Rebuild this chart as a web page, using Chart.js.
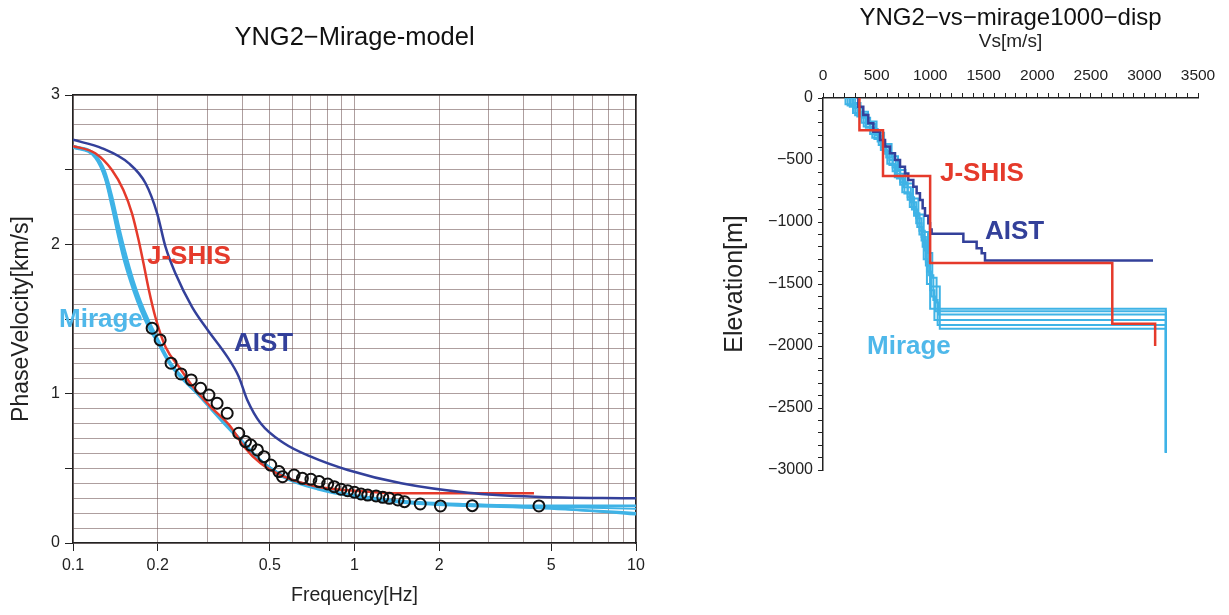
<!DOCTYPE html>
<html>
<head>
<meta charset="utf-8">
<script src="https://cdn.jsdelivr.net/npm/chart.js@4.4.1/dist/chart.umd.min.js"></script>
<style>
body { margin: 0; background: #fff; width: 1229px; height: 615px; overflow: hidden; position: relative; font-family: "Liberation Sans", Arial, sans-serif; }
#leftBox { position: absolute; left: 0; top: 0; width: 700px; height: 615px; }
#rightBox { position: absolute; left: 700px; top: 0; width: 529px; height: 615px; }
.tag { position: absolute; font-weight: bold; white-space: nowrap; line-height: 1; font-size: 26px; }
</style>
</head>
<body>
<div id="leftBox"><canvas id="dispChart"></canvas></div>
<div id="rightBox"><canvas id="vsChart"></canvas></div>

<div class="tag" style="left:147px; top:242px; color:#e53a2b;">J-SHIS</div>
<div class="tag" style="left:59px; top:305px; color:#4fb8ea;">Mirage</div>
<div class="tag" style="left:234px; top:329px; color:#33409a;">AIST</div>
<div class="tag" style="left:940px; top:159px; color:#e53a2b;">J-SHIS</div>
<div class="tag" style="left:985px; top:217px; color:#33409a;">AIST</div>
<div class="tag" style="left:867px; top:332px; color:#4fb8ea;">Mirage</div>

<script>
// dispersion curves (left)
const aistFreq = [0.1, 0.127, 0.158, 0.181, 0.199, 0.213, 0.231, 0.265, 0.300, 0.353, 0.388, 0.416, 0.464, 0.562, 0.700, 0.946, 1.466, 2.53, 4.37, 10];
const aistVel  = [2.70, 2.643, 2.542, 2.409, 2.208, 1.984, 1.806, 1.58, 1.43, 1.248, 1.114, 0.958, 0.802, 0.668, 0.578, 0.489, 0.40, 0.337, 0.31, 0.299];

const jshisFreq = [0.1, 0.12, 0.1375, 0.151, 0.162, 0.171, 0.178, 0.186, 0.196, 0.213, 0.24, 0.261, 0.308, 0.363, 0.405, 0.464, 0.562, 0.74, 1.0, 1.47, 2.0, 4.34];
const jshisVel  = [2.658, 2.61, 2.498, 2.364, 2.208, 2.029, 1.873, 1.694, 1.515, 1.314, 1.17, 1.07, 0.913, 0.779, 0.645, 0.534, 0.444, 0.377, 0.35, 0.333, 0.333, 0.333];

const mirageFreq = [0.1, 0.12, 0.13, 0.1375, 0.145, 0.153, 0.164, 0.174, 0.186, 0.2, 0.222, 0.279, 0.34, 0.40, 0.46, 0.56, 0.74, 1.0, 1.5, 2.5, 4.5, 10];
const mirageVel1 = [2.65, 2.59, 2.45, 2.27, 2.07, 1.89, 1.71, 1.58, 1.45, 1.35, 1.2, 1.0, 0.82, 0.68, 0.56, 0.45, 0.37, 0.32, 0.28, 0.26, 0.25, 0.25];
const mirageVel2 = [2.66, 2.60, 2.49, 2.33, 2.14, 1.96, 1.76, 1.62, 1.49, 1.37, 1.21, 1.0, 0.82, 0.68, 0.56, 0.45, 0.37, 0.31, 0.275, 0.255, 0.245, 0.23];
const mirageVel3 = [2.65, 2.58, 2.44, 2.25, 2.05, 1.87, 1.69, 1.56, 1.44, 1.34, 1.19, 0.99, 0.81, 0.67, 0.55, 0.44, 0.36, 0.31, 0.27, 0.25, 0.235, 0.20];
const mirageVel4 = [2.66, 2.60, 2.47, 2.30, 2.10, 1.92, 1.74, 1.60, 1.47, 1.36, 1.20, 1.0, 0.82, 0.68, 0.56, 0.45, 0.37, 0.315, 0.275, 0.255, 0.24, 0.19];

const obsFreq = [0.191, 0.204, 0.223, 0.242, 0.263, 0.284, 0.304, 0.325, 0.353, 0.388, 0.410, 0.428, 0.452, 0.477, 0.504, 0.539, 0.555, 0.610, 0.653, 0.700, 0.749, 0.803, 0.847, 0.895, 0.946, 1.0, 1.055, 1.114, 1.193, 1.26, 1.33, 1.426, 1.505, 1.712, 2.02, 2.62, 4.52];
const obsVel  = [1.438, 1.36, 1.204, 1.132, 1.092, 1.036, 0.991, 0.936, 0.869, 0.735, 0.679, 0.656, 0.623, 0.578, 0.522, 0.478, 0.444, 0.455, 0.433, 0.427, 0.411, 0.395, 0.377, 0.36, 0.35, 0.34, 0.328, 0.321, 0.315, 0.306, 0.299, 0.288, 0.277, 0.261, 0.248, 0.25, 0.248];

const freqGrid   = [0.1, 0.2, 0.3, 0.4, 0.5, 0.6, 0.7, 0.8, 0.9, 1, 2, 3, 4, 5, 6, 7, 8, 9, 10];
const freqLabels = [0.1, 0.2, 0.5, 1, 2, 5, 10];
const velGrid = Array.from({length: 31}, (_, i) => i / 10);

// Vs profiles (right), layer velocity + layer top depth
const jshisVs  = [340, 560, 1000, 2700, 3100];
const jshisTop = [0, 260, 630, 1330, 1820, 2000];

const aistVs  = [330, 376, 423, 470, 532, 579, 625, 672, 719, 765, 796, 843, 874, 905, 930, 952, 983, 999, 1014, 1310, 1434, 1481, 1512, 3080];
const aistTop = [0, 70, 137, 204, 272, 339, 392, 446, 500, 554, 608, 661, 715, 769, 823, 890, 950, 1010, 1060, 1095, 1160, 1212, 1253, 1310, 1310];

const mirageVsList = [
    [210, 280, 360, 440, 520, 590, 650, 720, 790, 850, 900, 940, 970, 1000, 3200],
    [250, 320, 400, 480, 560, 620, 690, 760, 830, 880, 930, 970, 1010, 1050, 3200],
    [280, 350, 420, 500, 570, 640, 700, 770, 840, 890, 940, 980, 1020, 1060, 1080, 3200],
    [230, 300, 380, 460, 540, 600, 670, 740, 810, 870, 920, 960, 1000, 1040, 3200],
    [300, 370, 440, 510, 580, 650, 720, 790, 850, 900, 950, 990, 1030, 1070, 3200],
    [260, 330, 410, 490, 550, 620, 680, 750, 820, 870, 920, 960, 1000, 1090, 3200]
];
const mirageTopList = [
    [0, 50, 120, 200, 290, 380, 480, 590, 700, 820, 950, 1100, 1300, 1500, 1700, 2860],
    [0, 70, 150, 240, 330, 430, 540, 650, 770, 900, 1040, 1200, 1400, 1600, 1720, 2860],
    [0, 40, 110, 190, 280, 370, 470, 580, 690, 810, 940, 1080, 1250, 1450, 1650, 1745, 2860],
    [0, 60, 140, 230, 320, 420, 530, 640, 760, 880, 1010, 1150, 1350, 1550, 1790, 2860],
    [0, 80, 160, 250, 350, 450, 560, 680, 800, 930, 1070, 1230, 1430, 1630, 1830, 2860],
    [0, 55, 130, 210, 300, 400, 500, 610, 720, 840, 970, 1120, 1320, 1520, 1860, 2860]
];

const vsGrid = Array.from({length: 36}, (_, i) => i * 100);
const elevGrid = Array.from({length: 31}, (_, i) => -3000 + i * 100);

const RED = '#e53a2b';
const NAVY = '#33409a';
const SKY = '#3fb3e6';
const GRID = 'rgba(120, 95, 95, 0.6)';
const INK = '#222';

Chart.defaults.font.family = '"Liberation Sans", Arial, sans-serif';
Chart.defaults.color = INK;

function pairs(xs, ys) {
    return xs.map((x, i) => ({x: x, y: ys[i]}));
}

function near(v, list) {
    return list.some(t => Math.abs(t - v) < 1e-6);
}

function curve(label, xs, ys, color, width) {
    return {
        label: label,
        data: pairs(xs, ys),
        showLine: true,
        borderColor: color,
        borderWidth: width,
        pointRadius: 0,
        cubicInterpolationMode: 'monotone',
        fill: false
    };
}

// step profile: each layer is a vertical segment from its top to the next top
function profile(vs, tops) {
    const pts = [];
    vs.forEach((v, i) => {
        pts.push({x: v, y: -tops[i]});
        pts.push({x: v, y: -tops[i + 1]});
    });
    return pts;
}

function step(label, vs, tops, color, width) {
    return {
        label: label,
        data: profile(vs, tops),
        showLine: true,
        borderColor: color,
        borderWidth: width,
        pointRadius: 0,
        tension: 0,
        fill: false
    };
}

const ctx = document.getElementById('dispChart').getContext('2d');
const dispChart = new Chart(ctx, {
    type: 'scatter',
    data: {
        datasets: [
            {
                label: 'Observed',
                data: pairs(obsFreq, obsVel),
                showLine: false,
                pointRadius: 5.5,
                pointBorderWidth: 2,
                pointBorderColor: '#111',
                pointBackgroundColor: 'rgba(0,0,0,0)'
            },
            curve('AIST', aistFreq, aistVel, NAVY, 2.5),
            curve('J-SHIS', jshisFreq, jshisVel, RED, 2.5),
            curve('Mirage 1', mirageFreq, mirageVel1, SKY, 2.5),
            curve('Mirage 2', mirageFreq, mirageVel2, SKY, 2),
            curve('Mirage 3', mirageFreq, mirageVel3, SKY, 2.5),
            curve('Mirage 4', mirageFreq, mirageVel4, SKY, 2)
        ]
    },
    options: {
        responsive: true,
        maintainAspectRatio: false,
        animation: false,
        layout: { padding: { left: 0, right: 64, top: 0, bottom: 0 } },
        plugins: {
            legend: { display: false },
            tooltip: { enabled: false },
            title: {
                display: true,
                text: 'YNG2\u2212Mirage-model',
                fullSize: false,
                color: '#111',
                font: { size: 25.5, weight: 'normal' },
                padding: { top: 22.7, bottom: 41.7 }
            }
        },
        scales: {
            x: {
                type: 'logarithmic',
                position: 'bottom',
                min: 0.1,
                max: 10,
                afterBuildTicks: s => { s.ticks = freqGrid.map(v => ({value: v})); },
                afterFit: s => { s.height = 72; },
                ticks: {
                    autoSkip: false,
                    maxRotation: 0,
                    padding: 5,
                    font: { size: 16 },
                    callback: v => near(v, freqLabels) ? String(v) : ''
                },
                grid: {
                    color: GRID,
                    tickLength: 8,
                    tickColor: c => (c.tick && near(c.tick.value, freqLabels)) ? INK : 'rgba(0,0,0,0)'
                },
                border: { color: INK, width: 1.5 },
                title: {
                    display: true,
                    text: 'Frequency[Hz]',
                    font: { size: 19.5 },
                    padding: { top: 0, bottom: 7.3 }
                }
            },
            y: {
                type: 'linear',
                position: 'left',
                min: 0,
                max: 3,
                afterBuildTicks: s => { s.ticks = velGrid.map(v => ({value: v})); },
                afterFit: s => { s.width = 73; },
                ticks: {
                    autoSkip: false,
                    padding: 5,
                    font: { size: 16 },
                    callback: v => Math.abs(v - Math.round(v)) < 1e-6 ? String(Math.round(v)) : ''
                },
                grid: {
                    color: GRID,
                    tickLength: 8,
                    tickColor: c => (c.tick && Math.abs(c.tick.value * 2 - Math.round(c.tick.value * 2)) < 1e-6) ? INK : 'rgba(0,0,0,0)'
                },
                border: { color: INK, width: 1.5 },
                title: {
                    display: true,
                    text: 'PhaseVelocity[km/s]',
                    font: { size: 23 },
                    padding: { top: 8, bottom: 0 }
                }
            },
            xTop: {
                type: 'linear',
                position: 'top',
                min: 0,
                max: 1,
                afterFit: s => { s.height = 0; },
                ticks: { display: false },
                grid: { display: false },
                border: { color: INK, width: 1.5 }
            },
            yRight: {
                type: 'linear',
                position: 'right',
                min: 0,
                max: 1,
                afterFit: s => { s.width = 0; },
                ticks: { display: false },
                grid: { display: false },
                border: { color: INK, width: 1.5 }
            }
        }
    }
});

const mirageSets = mirageVsList.map((vs, i) => step('Mirage ' + (i + 1), vs, mirageTopList[i], SKY, 2));

const ctx2 = document.getElementById('vsChart').getContext('2d');
const vsChart = new Chart(ctx2, {
    type: 'scatter',
    data: {
        datasets: [
            step('J-SHIS', jshisVs, jshisTop, RED, 2.5),
            step('AIST', aistVs, aistTop, NAVY, 2.5)
        ].concat(mirageSets)
    },
    options: {
        responsive: true,
        maintainAspectRatio: false,
        animation: false,
        layout: { padding: { left: 0, right: 31, top: 0, bottom: 145 } },
        plugins: {
            legend: { display: false },
            tooltip: { enabled: false },
            title: {
                display: true,
                text: 'YNG2\u2212vs\u2212mirage1000\u2212disp',
                fullSize: false,
                color: '#111',
                font: { size: 24, weight: 'normal' },
                padding: { top: 3.6, bottom: 0 }
            }
        },
        scales: {
            x: {
                type: 'linear',
                position: 'top',
                min: 0,
                max: 3500,
                afterBuildTicks: s => { s.ticks = vsGrid.map(v => ({value: v})); },
                afterFit: s => { s.height = 65.6; },
                ticks: {
                    autoSkip: false,
                    maxRotation: 0,
                    padding: 8,
                    font: { size: 15.5 },
                    callback: v => v % 500 === 0 ? String(v) : ''
                },
                grid: {
                    drawOnChartArea: false,
                    tickLength: 5,
                    tickColor: INK
                },
                border: { color: INK, width: 1.5 },
                title: {
                    display: true,
                    text: 'Vs[m/s]',
                    font: { size: 19, lineHeight: 1 },
                    padding: { top: 0, bottom: 0 }
                }
            },
            y: {
                type: 'linear',
                position: 'left',
                min: -3000,
                max: 0,
                afterBuildTicks: s => { s.ticks = elevGrid.map(v => ({value: v})); },
                afterFit: s => { s.width = 123; },
                ticks: {
                    autoSkip: false,
                    padding: 5,
                    font: { size: 16 },
                    callback: v => v % 500 === 0 ? (v < 0 ? '\u2212' + Math.abs(v) : String(v)) : ''
                },
                grid: {
                    drawOnChartArea: false,
                    tickLength: 5,
                    tickColor: INK
                },
                border: { color: INK, width: 1.5 },
                title: {
                    display: true,
                    text: 'Elevation[m]',
                    font: { size: 25 },
                    padding: { top: 20, bottom: 0 }
                }
            }
        }
    }
});
</script>
</body>
</html>
